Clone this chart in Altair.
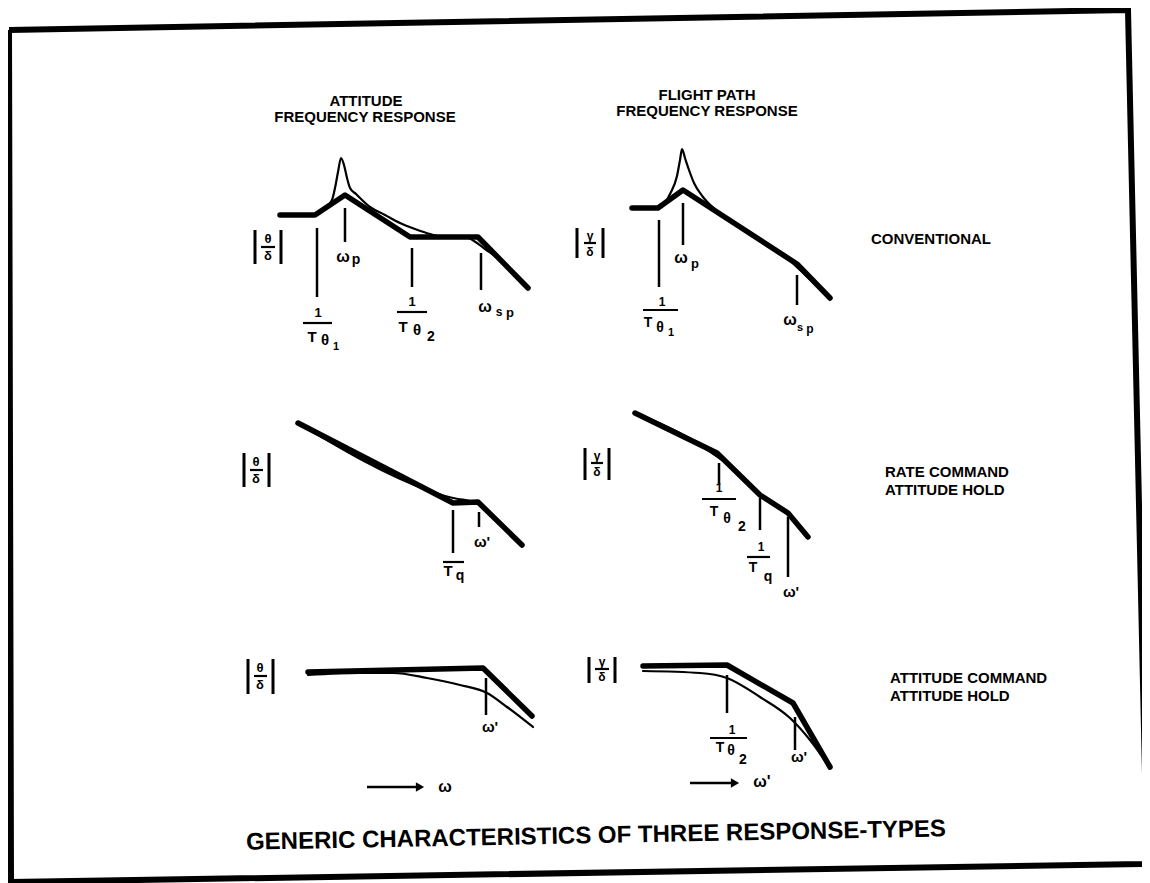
import altair as alt
import pandas as pd

# ------------------------------------------------------------------
# Diagram coordinates (canvas units, y grows downward)
# ------------------------------------------------------------------
# Row 1 : CONVENTIONAL
att_conv_asym_x = [280, 315, 345, 410, 478, 528]
att_conv_asym_y = [215, 215, 195, 237, 237, 288]
att_conv_true_x = [315, 325, 332, 335, 338, 341, 344, 347, 350, 356, 370, 385, 400, 415, 430, 445, 465, 474, 485, 500, 515, 528]
att_conv_true_y = [215, 208, 200, 188, 172, 158, 165, 178, 188, 194, 207, 215, 223, 229, 234, 237, 237, 241, 249, 260, 275, 288]

fp_conv_asym_x = [632, 658, 683, 797, 830]
fp_conv_asym_y = [208, 208, 190, 264, 298]
fp_conv_true_x = [658, 664, 670, 677, 680, 682, 685, 689, 694, 703, 717, 733, 760, 787, 800, 815, 830]
fp_conv_true_y = [208, 204, 194, 176, 160, 149, 158, 170, 183, 197, 211, 222, 240, 258, 270, 284, 298]

# Row 2 : RATE COMMAND / ATTITUDE HOLD
att_rc_asym_x = [298, 453, 478, 522]
att_rc_asym_y = [423, 503, 502, 545]
att_rc_true_x = [298, 430, 445, 458, 470, 480, 490, 500, 522]
att_rc_true_y = [423, 491, 496, 499, 501, 505, 513, 522, 545]

fp_rc_asym_x = [635, 717, 760, 788, 808]
fp_rc_asym_y = [413, 453, 495, 513, 537]
fp_rc_true_x = [635, 697, 712, 726, 760, 788, 808]
fp_rc_true_y = [413, 443, 453, 463, 495, 513, 537]

# Row 3 : ATTITUDE COMMAND / ATTITUDE HOLD
att_ac_asym_x = [308, 483, 532]
att_ac_asym_y = [672, 668, 716]
att_ac_true_x = [308, 360, 393, 427, 460, 487, 507, 533]
att_ac_true_y = [675, 673, 673, 678, 685, 693, 707, 727]

fp_ac_asym_x = [643, 727, 793, 830]
fp_ac_asym_y = [666, 665, 703, 767]
fp_ac_true_x = [643, 700, 727, 760, 790, 810, 828]
fp_ac_true_y = [671, 673, 678, 697, 718, 740, 765]

# Break-frequency tick marks: x, top, bottom
tick_x   = [317, 345, 412, 481, 659, 683, 797, 453, 479, 719, 760, 788, 486, 727, 795]
tick_top = [228, 208, 248, 253, 220, 203, 275, 510, 512, 463, 498, 517, 678, 675, 717]
tick_bot = [297, 242, 287, 290, 287, 245, 305, 553, 527, 485, 530, 577, 715, 713, 750]

# Fraction bars: x1, x2, y
frac_x1 = [303, 397, 643, 443, 702, 747, 710, 261, 250, 254, 584, 591, 595]
frac_x2 = [332, 427, 678, 464, 736, 770, 747, 275, 263, 267, 596, 603, 609]
frac_y  = [323, 312, 310, 562, 499, 557, 738, 247, 470, 676, 243, 463, 669]

# Magnitude bars |  | : x, top, bottom
abs_x   = [255, 281, 244, 269, 248, 273, 577, 603, 585, 609, 589, 615]
abs_top = [230, 230, 453, 453, 659, 659, 228, 228, 448, 448, 657, 657]
abs_bot = [264, 264, 487, 487, 694, 694, 258, 258, 480, 480, 683, 683]

# Frame (slightly rotated scan)
frame_x = [9, 1128, 1147, 11, 9]
frame_y = [30, 10, 864, 882, 30]

# Arrows along frequency axis
arrow_x1 = [367, 690]
arrow_x2 = [420, 735]
arrow_y  = [787, 783]

# Text labels (centred): text, x, y, size
ctext = [
    ("ATTITUDE", 366, 101, 15), ("FREQUENCY RESPONSE", 365, 117, 15),
    ("FLIGHT PATH", 707, 95, 15), ("FREQUENCY RESPONSE", 707, 111, 15),
    # |theta/delta| and |gamma/delta|
    ("θ", 268, 239, 13), ("δ", 268, 256, 13),
    ("θ", 256, 462, 13), ("δ", 256, 479, 13),
    ("θ", 260, 668, 13), ("δ", 260, 685, 13),
    ("γ", 590, 236, 12), ("δ", 590, 252, 12),
    ("γ", 597, 456, 12), ("δ", 597, 472, 12),
    ("γ", 602, 662, 12), ("δ", 602, 677, 12),
    # row 1 left
    ("1", 318, 313, 13), ("T", 312, 337, 15), ("θ", 325, 340, 15), ("1", 336, 347, 11),
    ("ω", 343, 257, 16), ("p", 356, 260, 14),
    ("1", 412, 302, 13), ("T", 403, 327, 15), ("θ", 417, 330, 15), ("2", 431, 337, 14),
    ("ω", 485, 307, 16), ("s", 499, 312, 12), ("p", 510, 313, 13),
    # row 1 right
    ("ω", 681, 258, 16), ("p", 695, 264, 13),
    ("1", 662, 302, 12), ("T", 648, 323, 14), ("θ", 660, 328, 14), ("1", 671, 333, 11),
    ("ω", 790, 320, 16), ("s", 800, 328, 11), ("p", 810, 329, 12),
    # row 2 left
    ("T", 448, 571, 15), ("q", 460, 576, 14), ("ω'", 482, 542, 15),
    # row 2 right
    ("1", 719, 488, 12), ("T", 714, 512, 14), ("θ", 727, 519, 14), ("2", 742, 527, 14),
    ("1", 761, 547, 12), ("T", 753, 568, 14), ("q", 768, 577, 14),
    ("ω'", 791, 592, 15),
    # row 3 left
    ("ω'", 490, 727, 15), ("ω", 445, 787, 16),
    # row 3 right
    ("1", 732, 730, 12), ("T", 720, 748, 14), ("θ", 731, 751, 14), ("2", 743, 760, 14),
    ("ω'", 799, 757, 15), ("ω'", 762, 782, 16),
]

# Row captions (left aligned): text, x, y
ltext = [
    ("CONVENTIONAL", 871, 239),
    ("RATE COMMAND", 885, 472), ("ATTITUDE HOLD", 885, 490),
    ("ATTITUDE COMMAND", 890, 678), ("ATTITUDE HOLD", 890, 696),
]

fig_title = "GENERIC CHARACTERISTICS OF THREE RESPONSE-TYPES"
fig_title_x, fig_title_y = 596, 836

# ------------------------------------------------------------------
curves = [
    ("att_conv_asym", att_conv_asym_x, att_conv_asym_y, "thick"),
    ("att_conv_true", att_conv_true_x, att_conv_true_y, "thin"),
    ("fp_conv_asym", fp_conv_asym_x, fp_conv_asym_y, "thick"),
    ("fp_conv_true", fp_conv_true_x, fp_conv_true_y, "thin"),
    ("att_rc_asym", att_rc_asym_x, att_rc_asym_y, "thick"),
    ("att_rc_true", att_rc_true_x, att_rc_true_y, "thin"),
    ("fp_rc_asym", fp_rc_asym_x, fp_rc_asym_y, "thick"),
    ("fp_rc_true", fp_rc_true_x, fp_rc_true_y, "thin"),
    ("att_ac_asym", att_ac_asym_x, att_ac_asym_y, "thick"),
    ("att_ac_true", att_ac_true_x, att_ac_true_y, "thin"),
    ("fp_ac_asym", fp_ac_asym_x, fp_ac_asym_y, "thick"),
    ("fp_ac_true", fp_ac_true_x, fp_ac_true_y, "thin"),
]
rows = []
for name, xs, ys, kind in curves:
    for i, (a, b) in enumerate(zip(xs, ys)):
        rows.append({"curve": name, "i": i, "x": a, "y": b, "kind": kind})
curve_df = pd.DataFrame(rows)

frame_df = pd.DataFrame({"i": range(len(frame_x)), "x": frame_x, "y": frame_y})
tick_df = pd.DataFrame({"x": tick_x, "y": tick_top, "y2": tick_bot})
abs_df = pd.DataFrame({"x": abs_x, "y": abs_top, "y2": abs_bot})
frac_df = pd.DataFrame({"x": frac_x1, "x2": frac_x2, "y": frac_y})
arrow_df = pd.DataFrame({"x": arrow_x1, "x2": arrow_x2, "y": arrow_y})
head_df = pd.DataFrame({"x": arrow_x2, "y": arrow_y})
ctext_df = pd.DataFrame(ctext, columns=["text", "x", "y", "size"])
ltext_df = pd.DataFrame(ltext, columns=["text", "x", "y"])
title_df = pd.DataFrame({"text": [fig_title], "x": [fig_title_x], "y": [fig_title_y]})

W, H = 1134, 875
xs = alt.Scale(domain=[8, 8 + W], nice=False, zero=False)
ys = alt.Scale(domain=[8, 8 + H], nice=False, zero=False, reverse=True)
X = alt.X("x:Q", scale=xs, axis=None)
Y = alt.Y("y:Q", scale=ys, axis=None)
FONT = "Liberation Sans"

frame = alt.Chart(frame_df).mark_line(color="black", strokeWidth=6, strokeJoin="miter").encode(
    x=X, y=Y, order="i:Q")

thick = alt.Chart(curve_df).transform_filter(alt.datum.kind == "thick").mark_line(
    color="black", strokeWidth=5.5, strokeCap="round", strokeJoin="round").encode(
    x=X, y=Y, detail="curve:N", order="i:Q")

thin = alt.Chart(curve_df).transform_filter(alt.datum.kind == "thin").mark_line(
    color="black", strokeWidth=2.2, strokeCap="round", strokeJoin="round", interpolate="monotone").encode(
    x=X, y=Y, detail="curve:N", order="i:Q")

ticks = alt.Chart(tick_df).mark_rule(color="black", strokeWidth=2.5).encode(
    x=X, y=Y, y2="y2:Q")

absbars = alt.Chart(abs_df).mark_rule(color="black", strokeWidth=3).encode(
    x=X, y=Y, y2="y2:Q")

fracs = alt.Chart(frac_df).mark_rule(color="black", strokeWidth=2.2).encode(
    x=X, x2="x2:Q", y=Y)

arrows = alt.Chart(arrow_df).mark_rule(color="black", strokeWidth=2.5).encode(
    x=X, x2="x2:Q", y=Y)

heads = alt.Chart(head_df).mark_point(shape="triangle-right", filled=True, size=90,
                                      color="black", opacity=1).encode(x=X, y=Y)

ctexts = alt.Chart(ctext_df).mark_text(font=FONT, fontWeight="bold", align="center",
                                       baseline="middle", color="black").encode(
    x=X, y=Y, text="text:N", size=alt.Size("size:Q", scale=None, legend=None))

ltexts = alt.Chart(ltext_df).mark_text(font=FONT, fontWeight="bold", align="left",
                                       baseline="middle", color="black", fontSize=15).encode(
    x=X, y=Y, text="text:N")

title = alt.Chart(title_df).mark_text(font=FONT, fontWeight="bold", align="center",
                                      baseline="middle", color="black", fontSize=24,
                                      angle=358.9).encode(x=X, y=Y, text="text:N")

chart = alt.layer(frame, thick, thin, ticks, absbars, fracs, arrows, heads,
                  ctexts, ltexts, title).properties(
    width=W, height=H, padding=0, autosize="none", background="white"
).configure_view(strokeWidth=0)

chart.save("out.html", embed_options={"renderer": "svg", "actions": False})
